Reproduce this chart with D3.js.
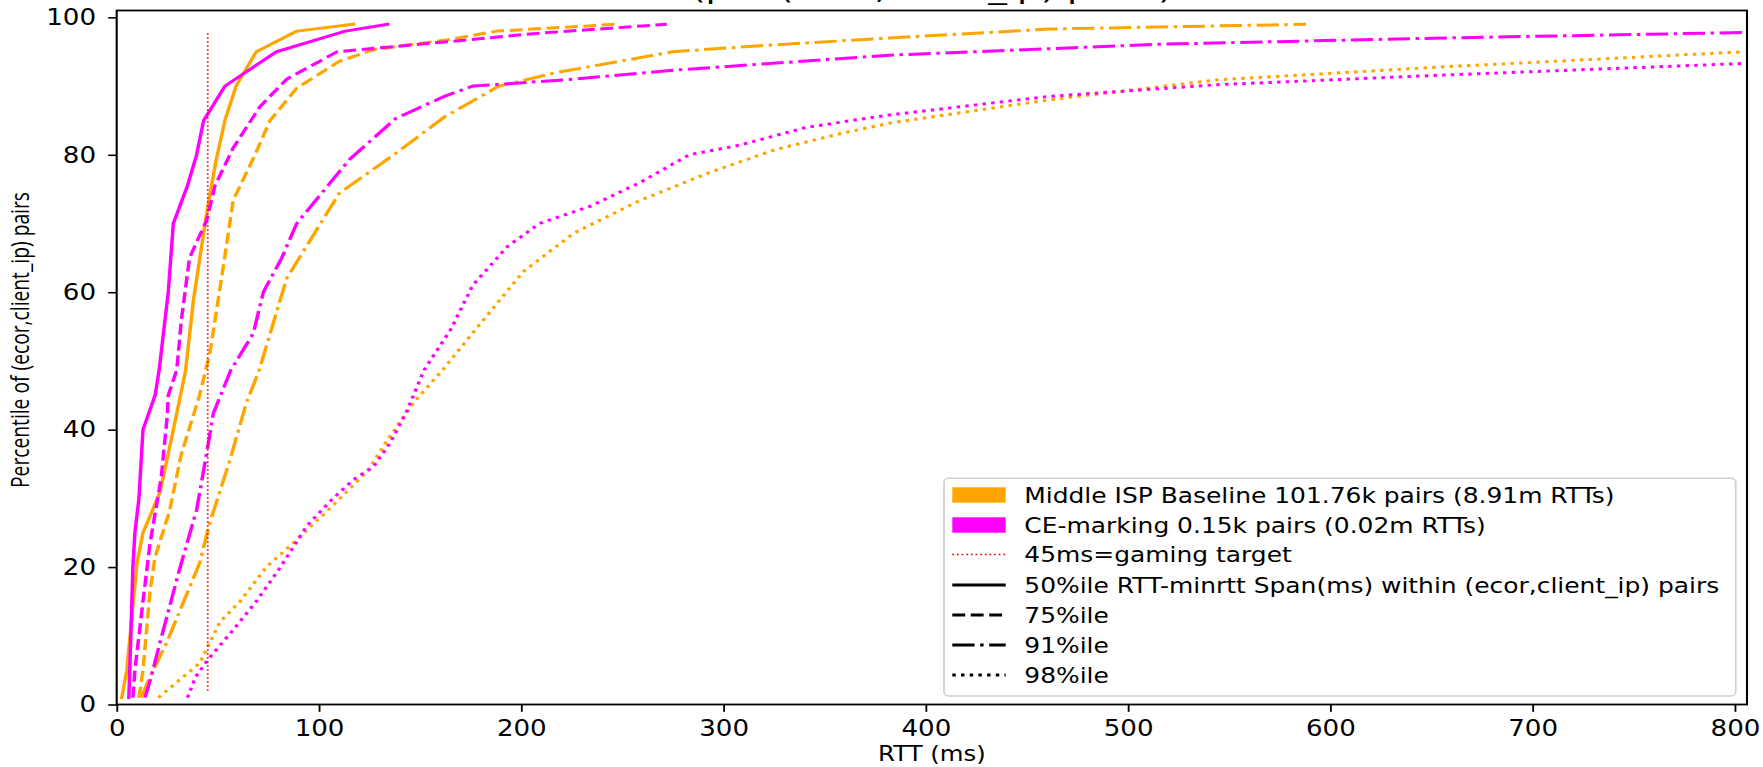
<!DOCTYPE html>
<html><head><meta charset="utf-8">
<script src="https://cdn.jsdelivr.net/npm/d3@7"></script>
<style>html,body{margin:0;padding:0;background:#fff;overflow:hidden}</style>
</head><body>
<svg id="chart"></svg>
<script>
// ---- data (RTT ms, percentile of pairs) ----
const xTicks = [0, 100, 200, 300, 400, 500, 600, 700, 800];
const yTicks = [0, 20, 40, 60, 80, 100];
const baseline50 = [[2.5,1],[5,5],[10,20.5],[13,25],[18,28.5],[21.5,31],[28,40],[34,48.5],[38,59],[44.5,71.5],[49,79],[53.5,85],[59,90],[69,95],[89,98],[117,99]];
const ce50 = [[6,1],[7,10],[8,20],[9,25],[11,30],[13,40],[19,45],[21,48.7],[25.5,60],[28,70],[35,75.5],[39.5,80],[43,85],[53.5,90],[79,95],[113,98],[134,99]];
const baseline75 = [[11,1],[13,5],[16.5,16.5],[19,21.5],[26,28],[32,36.5],[41,45],[44,48.7],[46,51],[52.7,63.7],[57.6,73.4],[68.4,80],[75.8,85],[89,89.7],[110,93.6],[127,95.3],[165,96.8],[188,98],[247,99]];
const ce75 = [[8,1],[9,5],[11,10],[13,15],[16.5,23.5],[22,33],[25,42],[25.5,45],[29.7,48.7],[32,56],[36,65],[44.5,70.5],[48.6,75.5],[57.6,81],[70.8,87],[84,91],[109,95],[165,96.5],[209,97.7],[272,99]];
const baseline91 = [[12,1],[16.5,4],[24.7,9],[41,20.6],[46,26.4],[56,35.6],[64,43.8],[70.5,48.7],[84,62],[110,74.4],[137,80],[162,85.5],[189,90],[218,92],[275,95],[325,96],[382,97],[461,98.3],[588,99]];
const ce91 = [[14,1],[17,4],[21.4,9],[31,19.6],[39.5,28.3],[44.5,36.6],[47.8,42.4],[56.5,48.7],[67.5,54],[72.5,60],[81.6,65],[89,70],[115,79.3],[138,85.3],[162,88.5],[176,90],[226,91],[275,92.3],[382,94.5],[517,96.1],[656,97],[805,97.8]];
const baseline98 = [[20.6,1],[41,6],[51,12],[61,15],[74,20],[91,24.5],[107,29],[124,34],[135,39],[147,44],[162,49],[180,55.5],[201,63],[226,68.6],[259,73.4],[292,77.3],[325,80.7],[358,83.1],[382,84.6],[461,88],[544,90.9],[656,92.8],[805,95]];
const ce98 = [[35,1],[39,4],[45,6.5],[58,11],[69,15],[81,20],[94,26],[107,30],[117,32.7],[127,34.6],[135,38],[143,42.4],[152,48.7],[165,54.5],[176,61],[193,66.6],[209,70],[234,72.5],[259,76],[283,80],[308,81.4],[341,84],[382,85.8],[461,88.5],[544,90.2],[656,91.6],[805,93.3]];
const gamingTarget = 45;
const gamingSpan = [2, 97.7];
const legendLabels = ["Middle ISP Baseline 101.76k pairs (8.91m RTTs)", "CE-marking 0.15k pairs (0.02m RTTs)", "45ms=gaming target", "50%ile RTT-minrtt Span(ms) within (ecor,client_ip) pairs", "75%ile", "91%ile", "98%ile"];
const titleText = "(per (ecor,client_ip) pairs)";
const xLabel = "RTT (ms)";
const yLabel = "Percentile of (ecor,client_ip) pairs";

// ---- layout ----
const K = 1.16, W = 1763, H = 767, IW = W / K;
const FONT = "DejaVu Sans";
const svg = d3.select('#chart').attr('width', W).attr('height', H)
  .attr('viewBox', `0 0 ${IW} ${H}`).attr('preserveAspectRatio', 'none');
const pL = 116.7 / K, pR = 1747 / K, pT = 10.5, pB = 704.5;
const x = d3.scaleLinear().domain([0, 806]).range([pL, pR]);
const y = d3.scaleLinear().domain([0, 101]).range([pB, pT]);

const ORANGE = '#FFA500', MAGENTA = '#FF00FF';
const LW = 3;
const styles = {
  solid: null,
  dashed: [3.7*LW, 1.6*LW].join(','),
  dashdot: [6.4*LW, 1.6*LW, 1*LW, 1.6*LW].join(','),
  dotted: [1*LW, 1.5*LW].join(',')
};
const series = [
  {d: baseline50, c: ORANGE, s: 'solid'}, {d: ce50, c: MAGENTA, s: 'solid'},
  {d: baseline75, c: ORANGE, s: 'dashed'}, {d: ce75, c: MAGENTA, s: 'dashed'},
  {d: baseline91, c: ORANGE, s: 'dashdot'}, {d: ce91, c: MAGENTA, s: 'dashdot'},
  {d: baseline98, c: ORANGE, s: 'dotted'}, {d: ce98, c: MAGENTA, s: 'dotted'}
];

svg.append('clipPath').attr('id', 'clip').append('rect')
  .attr('x', pL).attr('y', pT).attr('width', pR - pL).attr('height', pB - pT);

const line = d3.line().x(d => x(d[0])).y(d => y(d[1]));
const g = svg.append('g').attr('clip-path', 'url(#clip)');
series.forEach(sr => {
  g.append('path').attr('d', line(sr.d)).attr('fill', 'none')
    .attr('stroke', sr.c).attr('stroke-width', LW)
    .attr('stroke-linejoin', 'round')
    .attr('stroke-linecap', sr.s === 'solid' ? 'square' : 'butt')
    .attr('stroke-dasharray', styles[sr.s]);
});
g.append('line').attr('x1', x(gamingTarget)).attr('x2', x(gamingTarget))
  .attr('y1', y(gamingSpan[0])).attr('y2', y(gamingSpan[1]))
  .attr('stroke', 'red').attr('stroke-width', 1.5).attr('stroke-dasharray', '1.5,2.5');

// axes
const xAxis = d3.axisBottom(x).tickValues(xTicks).tickSize(7.3).tickPadding(8.5).tickFormat(d3.format('d'));
const yAxis = d3.axisLeft(y).tickValues(yTicks).tickSize(7.3).tickPadding(10.5).tickFormat(d3.format('d'));
const gx = svg.append('g').attr('transform', `translate(0,${pB})`).call(xAxis);
const gy = svg.append('g').attr('transform', `translate(${pL},0)`).call(yAxis);
[gx, gy].forEach(a => {
  a.select('.domain').remove();
  a.selectAll('.tick line').attr('stroke', '#000').attr('stroke-width', 1.6);
  a.selectAll('.tick text').attr('fill', '#000').attr('font-family', FONT).attr('font-size', 22.5);
});

// frame
svg.append('rect').attr('x', pL).attr('y', pT).attr('width', pR - pL).attr('height', pB - pT)
  .attr('fill', 'none').attr('stroke', '#000').attr('stroke-width', 1.8);

// labels
svg.append('text').attr('x', (pL + pR) / 2).attr('y', 761).attr('text-anchor', 'middle')
  .attr('font-family', FONT).attr('font-size', 21).attr('fill', '#000').text(xLabel);
svg.append('text').attr('transform', `translate(${29.5 / K},340) rotate(-90)`).attr('text-anchor', 'middle')
  .attr('font-family', 'Open Sans').attr('font-size', 21.5).attr('fill', '#000')
  .attr('textLength', 296).attr('lengthAdjust', 'spacingAndGlyphs').text(yLabel);
svg.append('text').attr('x', (pL + pR) / 2).attr('y', -1).attr('text-anchor', 'middle')
  .attr('font-family', FONT).attr('font-size', 24).attr('fill', '#000')
  .attr('textLength', 415).attr('lengthAdjust', 'spacingAndGlyphs').text(titleText);

// legend
const lg = svg.append('g');
lg.append('rect').attr('x', 944 / K).attr('y', 478.3).attr('width', (1735.7 - 944) / K).attr('height', 217.7)
  .attr('rx', 4).attr('fill', 'white').attr('fill-opacity', 0.85).attr('stroke', '#d0d0d0').attr('stroke-width', 1.5);
const hx0 = 952.3 / K, hx1 = 1005.7 / K, tx = 1024.3 / K;
const rowY = [495, 525, 554.5, 585, 615, 645, 675];
const handles = [
  {t: 'patch', c: ORANGE}, {t: 'patch', c: MAGENTA}, {t: 'line', c: 'red', s: '1.5,2.5', w: 1.5},
  {t: 'line', c: '#000', s: null, w: LW}, {t: 'line', c: '#000', s: styles.dashed, w: LW},
  {t: 'line', c: '#000', s: styles.dashdot, w: LW}, {t: 'line', c: '#000', s: styles.dotted, w: LW}
];
handles.forEach((h, i) => {
  const cy = rowY[i];
  if (h.t === 'patch') {
    lg.append('rect').attr('x', hx0).attr('y', cy - 7.7).attr('width', hx1 - hx0).attr('height', 15.4).attr('fill', h.c);
  } else {
    lg.append('line').attr('x1', hx0).attr('x2', hx1).attr('y1', cy).attr('y2', cy)
      .attr('stroke', h.c).attr('stroke-width', h.w).attr('stroke-dasharray', h.s);
  }
  lg.append('text').attr('x', tx).attr('y', cy + 7.8).attr('font-family', FONT).attr('font-size', 21.5)
    .attr('fill', '#000').text(legendLabels[i]);
});
</script>
</body></html>
